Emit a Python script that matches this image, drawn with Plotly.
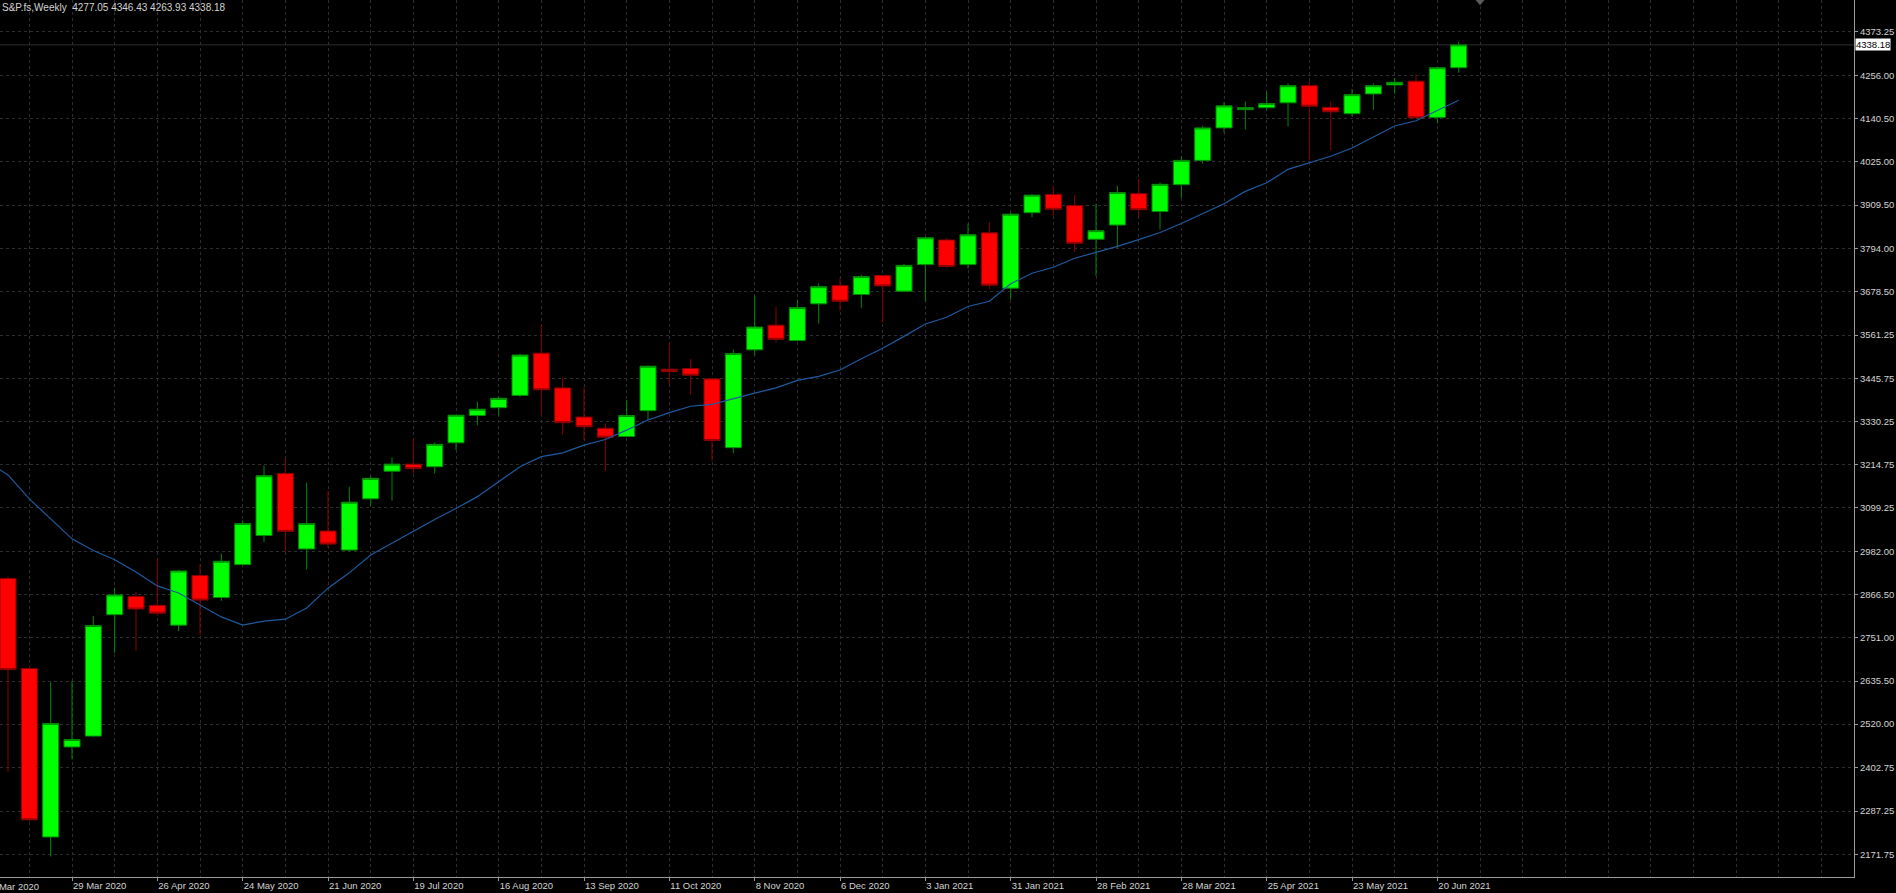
import pandas as pd
import plotly.graph_objects as go

# ---------------- data ----------------
symbol = "S&P.fs"
timeframe = "Weekly"

week_start = pd.date_range("2020-03-08", periods=69, freq="7D")

open_ = [2910, 2669, 2218, 2459, 2488, 2813, 2862, 2838, 2785, 2918,
         2859, 2947, 3025, 3191, 2989, 3037, 2986, 3123, 3197, 3216,
         3209, 3273, 3346, 3367, 3400, 3513, 3420, 3342, 3312, 3290,
         3359, 3470, 3472, 3444, 3260, 3522, 3588, 3547, 3645, 3694,
         3670, 3721, 3679, 3750, 3816, 3750, 3835, 3687, 3889, 3938,
         3908, 3818, 3856, 3940, 3892, 3964, 4029, 4116, 4165, 4170,
         4183, 4229, 4171, 4154, 4207, 4231, 4241, 4144, 4277.05]
high = [2915, 2672, 2632, 2635, 2810, 2885, 2874, 2965, 2933, 2948,
        2976, 3065, 3212, 3230, 3166, 3145, 3155, 3184, 3234, 3286,
        3274, 3348, 3383, 3397, 3511, 3591, 3448, 3421, 3325, 3388,
        3480, 3543, 3497, 3446, 3523, 3667, 3638, 3656, 3700, 3714,
        3723, 3722, 3752, 3823, 3821, 3860, 3864, 3890, 3938, 3960,
        3936, 3913, 3960, 3979, 3970, 4041, 4122, 4185, 4187, 4213,
        4235, 4239, 4187, 4220, 4235, 4250, 4259, 4277, 4346.43]
low = [2393, 2261, 2166, 2426, 2486, 2711, 2716, 2811, 2769, 2759,
       2850, 2945, 3007, 2982, 2934, 2992, 2983, 3105, 3118, 3191,
       3191, 3254, 3320, 3346, 3396, 3347, 3295, 3280, 3197, 3289,
       3334, 3430, 3401, 3225, 3245, 3507, 3542, 3545, 3592, 3627,
       3634, 3594, 3677, 3652, 3741, 3740, 3684, 3656, 3877, 3880,
       3784, 3720, 3795, 3876, 3844, 3929, 4020, 4103, 4112, 4165,
       4120, 4029, 4056, 4146, 4164, 4208, 4142, 4128, 4263.93]
close = [2666, 2264, 2522, 2479, 2784, 2866, 2828, 2817, 2930, 2852,
         2956, 3057, 3185, 3036, 3057, 3002, 3114, 3178, 3216, 3204,
         3269, 3347, 3363, 3392, 3508, 3415, 3327, 3316, 3288, 3346,
         3478, 3464, 3454, 3279, 3512, 3583, 3550, 3635, 3691, 3652,
         3718, 3693, 3748, 3822, 3745, 3830, 3695, 3885, 3936, 3898,
         3807, 3841, 3943, 3897, 3965, 4029, 4116, 4175, 4170, 4181,
         4229, 4174, 4159, 4205, 4229, 4238, 4143, 4277, 4338.18]

# moving average (starts one week earlier than the first visible candle)
ma_dates = pd.date_range("2020-03-01", periods=70, freq="7D")
ma = [3223, 3187, 3123, 3070, 3016, 2985, 2960, 2927, 2890, 2871,
      2838, 2807, 2785, 2796, 2801, 2831, 2884, 2925, 2973, 3005,
      3037, 3068, 3097, 3129, 3169, 3209, 3236, 3246, 3267, 3282,
      3307, 3334, 3354, 3371, 3376, 3392, 3406, 3420, 3440, 3451,
      3468, 3498, 3526, 3558, 3591, 3609, 3638, 3652, 3699, 3727,
      3743, 3767, 3782, 3799, 3817, 3836, 3860, 3887, 3913, 3946,
      3969, 4005, 4023, 4040, 4062, 4092, 4121, 4135, 4163, 4190]

price_ticks = [4373.25, 4256.00, 4140.50, 4025.00, 3909.50, 3794.00,
               3678.50, 3561.25, 3445.75, 3330.25, 3214.75, 3099.25,
               2982.00, 2866.50, 2751.00, 2635.50, 2520.00, 2402.75,
               2287.25, 2171.75]

# date labels: every fourth week, from 29 Mar 2020 to 20 Jun 2021
date_ticks = list(week_start[3::4])

# ---------------- layout constants ----------------
W, H = 1896, 893
ML, MR, MT, MB = 0, 42, 0, 16
DAY = 86400000
first = week_start[0]
x0 = first - pd.Timedelta(days=7 * 0.375)
x1 = first + pd.Timedelta(days=7 * 86.53)
y_range = [2110.9, 4458.3]

grid_col = "#2e2e2e"
axis_col = "#9a9a9a"
txt_col = "#d4d4d4"
FONT = "Liberation Sans"

fig = go.Figure()

fig.add_trace(go.Candlestick(
    x=week_start, open=open_, high=high, low=low, close=close,
    increasing=dict(line=dict(color="#008a00", width=1), fillcolor="#00ff00"),
    decreasing=dict(line=dict(color="#8a0000", width=1), fillcolor="#ff0000"),
    whiskerwidth=0, hoverinfo="skip", showlegend=False,
))

fig.add_trace(go.Scatter(
    x=ma_dates, y=ma, mode="lines",
    line=dict(color="#1f5aa0", width=1.2),
    hoverinfo="skip", showlegend=False,
))

fig.update_layout(
    width=W, height=H,
    margin=dict(l=ML, r=MR, t=MT, b=MB, pad=0, autoexpand=False),
    paper_bgcolor="#000000", plot_bgcolor="#000000",
    showlegend=False,
    boxgap=0.0, boxgroupgap=0.25,
    font=dict(family=FONT, size=10, color=txt_col),
    xaxis=dict(
        type="date", range=[x0, x1],
        rangeslider=dict(visible=False),
        tickmode="array", tickvals=date_ticks,
        tickformat="%-d %b %Y",
        ticklabelposition="outside right",
        showgrid=True, gridcolor=grid_col, griddash="dot", gridwidth=1,
        minor=dict(tickmode="linear", tick0="2020-03-15", dtick=14 * DAY,
                   showgrid=True, gridcolor=grid_col, griddash="dot",
                   gridwidth=1, ticks=""),
        showline=True, linecolor=axis_col, linewidth=1,
        ticks="outside", ticklen=3, tickcolor=axis_col,
        tickfont=dict(family=FONT, size=9.5, color=txt_col),
        zeroline=False, fixedrange=True, automargin=False,
    ),
    yaxis=dict(
        side="right", range=y_range,
        tickvals=price_ticks,
        ticktext=[f"{v:.2f}" for v in price_ticks],
        showgrid=True, gridcolor=grid_col, griddash="dot", gridwidth=1,
        showline=True, linecolor=axis_col, linewidth=1,
        ticks="outside", ticklen=3, tickcolor=axis_col,
        tickfont=dict(family=FONT, size=9.5, color=txt_col),
        zeroline=False, fixedrange=True, automargin=False,
    ),
)

# current price line + label
fig.add_shape(type="line", xref="paper", x0=0, x1=1, yref="y",
              y0=close[-1], y1=close[-1],
              line=dict(color="#2e2e2e", width=1), layer="below")
fig.add_annotation(xref="paper", x=1, xanchor="left", xshift=1,
                   yref="y", y=close[-1], yanchor="middle",
                   text=f"{close[-1]:.2f}", showarrow=False,
                   bgcolor="#ffffff", borderpad=0,
                   font=dict(family=FONT, size=9.5, color="#000000"))

# chart header
fig.add_annotation(xref="paper", x=0, xanchor="left", yref="paper", y=1,
                   yanchor="top", showarrow=False,
                   text=f"{symbol.replace('&', '&amp;')},{timeframe}\u00a0 "
                        f"{open_[-1]:.2f} {high[-1]:.2f} {low[-1]:.2f} {close[-1]:.2f}",
                   font=dict(family=FONT, size=10, color=txt_col))

# partially hidden first date label (cut by the left edge, as in the terminal)
span = (x1 - x0).total_seconds()
cut_date = pd.Timestamp("2020-03-01")
frac = (cut_date - x0).total_seconds() / span
fig.add_annotation(xref="paper", x=frac, xanchor="left", xshift=2,
                   yref="paper", y=0, yanchor="top", yshift=-2,
                   text=cut_date.strftime("%-d %b %Y"), showarrow=False,
                   font=dict(family=FONT, size=9.5, color=txt_col))

# chart-shift marker
shift_frac = (first + pd.Timedelta(days=7 * 69) - x0).total_seconds() / span
fig.add_shape(type="path", xref="paper", yref="paper",
              path=f"M {shift_frac - 0.0024},1 L {shift_frac + 0.0024},1 "
                   f"L {shift_frac},0.994 Z",
              fillcolor="#5a5a5a", line=dict(width=0))

fig.write_html("out.html",
               config={"displayModeBar": False},
               post_script="document.body.style.margin='0';"
                           "document.body.style.overflow='hidden';")
